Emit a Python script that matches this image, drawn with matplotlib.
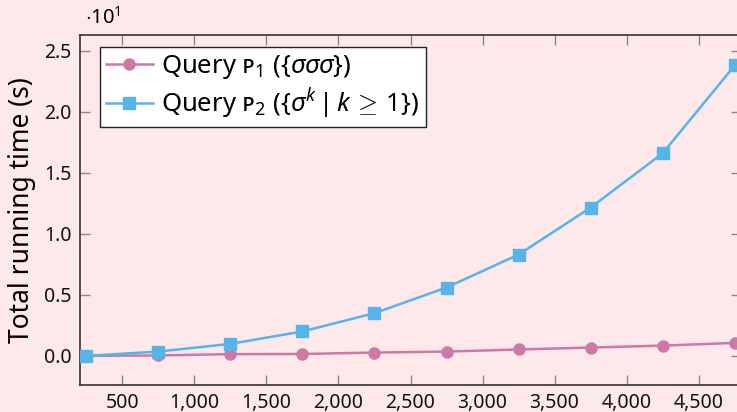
import matplotlib
matplotlib.use("Agg")
import matplotlib.pyplot as plt
from matplotlib.ticker import FuncFormatter, FixedLocator

# Data (seconds)
sizes = [250, 750, 1250, 1750, 2250, 2750, 3250, 3750, 4250, 4750]
p1_times = [0.0, 0.03, 0.14, 0.15, 0.27, 0.35, 0.52, 0.68, 0.84, 1.06]
p2_times = [0.0, 0.35, 0.98, 2.0, 3.5, 5.6, 8.3, 12.15, 16.6, 23.8]
x_ticks = [500, 1000, 1500, 2000, 2500, 3000, 3500, 4000, 4500]
y_ticks = [0.0, 0.5, 1.0, 1.5, 2.0, 2.5]
labels = [r"Query ᴘ$_1$ ($\{\sigma\sigma\sigma\}$)",
          r"Query ᴘ$_2$ ($\{\sigma^k\,|\,k\,\geq\,1\}$)"]
scale = 10.0

plt.rcParams['font.family'] = ['Noto Sans', 'DejaVu Sans']
plt.rcParams['mathtext.fontset'] = 'custom'
plt.rcParams['mathtext.rm'] = 'Noto Sans'
plt.rcParams['mathtext.it'] = 'Noto Sans:italic'

bg = '#FDE9E9'
pink = '#CC79A7'
blue = '#56B4E9'

fig = plt.figure(figsize=(7.37, 4.12), dpi=100, facecolor=bg)
ax = fig.add_axes([80/737, 27/412, (741-80)/737, (385-35)/412])
ax.set_facecolor(bg)

ax.plot(sizes, [v/scale for v in p1_times], color=pink, lw=1.8, marker='o', ms=8, label=labels[0], zorder=3)
ax.plot(sizes, [v/scale for v in p2_times], color=blue, lw=1.8, marker='s', ms=8, label=labels[1], zorder=4)

ax.set_xlim(206, 4794)
ax.set_ylim(-0.239, 2.63)
ax.xaxis.set_major_locator(FixedLocator(x_ticks))
ax.yaxis.set_major_locator(FixedLocator(y_ticks))
ax.xaxis.set_major_formatter(FuncFormatter(lambda v, p: f"{int(v):,}"))
ax.yaxis.set_major_formatter(FuncFormatter(lambda v, p: f"{v:.1f}"))
ax.tick_params(direction='in', length=7, width=1, color='#888888', top=True, right=True,
               labelsize=14, labelcolor='#111111', pad=6)
for s in ax.spines.values():
    s.set_color('#333333')
    s.set_linewidth(1.2)

ax.set_ylabel("Total running time (s)", fontsize=19, labelpad=6)
fig.text(85/737, 1 - 18/412, r"$\cdot 10^1$", fontsize=14.5, va='center', ha='left')

leg = ax.legend(loc='upper left', bbox_to_anchor=(0.03, 0.966), fontsize=18.5, frameon=True,
                fancybox=False, edgecolor='#222222', framealpha=1, borderpad=0.25,
                handlelength=1.8, handletextpad=0.35, labelspacing=0.2, borderaxespad=0)
leg.get_frame().set_linewidth(1.0)

fig.savefig("out.png", dpi=100, facecolor=bg)
